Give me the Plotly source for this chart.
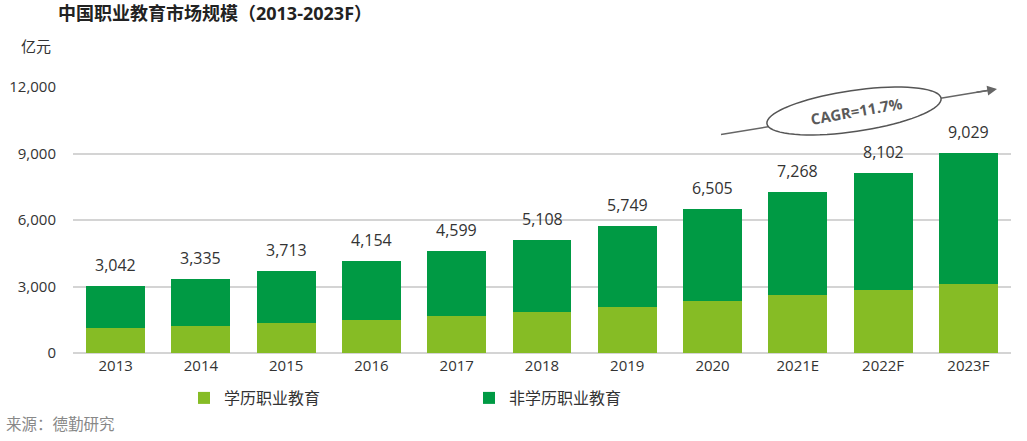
import math
import plotly.graph_objects as go

years = ["2013", "2014", "2015", "2016", "2017", "2018", "2019", "2020", "2021E", "2022F", "2023F"]
totals = [3042, 3335, 3713, 4154, 4599, 5108, 5749, 6505, 7268, 8102, 9029]
degree_voc = [1150, 1230, 1365, 1500, 1680, 1860, 2070, 2355, 2595, 2835, 3120]
non_degree_voc = [t - d for t, d in zip(totals, degree_voc)]
total_labels = [f"{v:,}" for v in totals]
y_ticks = [0, 3000, 6000, 9000, 12000]
y_tick_text = [f"{v:,}" for v in y_ticks]

LIGHT = "#86BC25"
DARK = "#009A44"
FONT = "Open Sans, Noto Sans CJK SC, sans-serif"

W, H = 1027, 441
L, R, T, B = 73, 16, 87, 88
PW, PH = W - L - R, H - T - B


def px(x):
    return (x - L) / PW


def py(y):
    return (H - B - y) / PH


fig = go.Figure()
fig.add_trace(go.Bar(x=years, y=degree_voc, name="学历职业教育", marker_color=LIGHT,
                     marker_line_width=0))
fig.add_trace(go.Bar(x=years, y=non_degree_voc, name="非学历职业教育", marker_color=DARK,
                     marker_line_width=0))

# CAGR arrow line (drawn first so the ellipse can cover it)
tail = (721, 134.5)
head = (997, 89)
shapes = [dict(type="line", xref="paper", yref="paper",
               x0=px(tail[0]), y0=py(tail[1]), x1=px(head[0] - 8), y1=py(head[1] + 1.3),
               line=dict(color="#666666", width=1.5), layer="above")]

# rotated ellipse
cx, cy, a, b, ang = 854, 111, 88, 20.5, math.radians(8.3)
pts = []
for i in range(73):
    t = 2 * math.pi * i / 72
    ex = a * math.cos(t)
    ey = b * math.sin(t)
    X = cx + ex * math.cos(ang) + ey * math.sin(ang)
    Y = cy - ex * math.sin(ang) + ey * math.cos(ang)
    pts.append((px(X), py(Y)))
path = "M " + " L ".join(f"{x:.5f},{y:.5f}" for x, y in pts) + " Z"
shapes.append(dict(type="path", xref="paper", yref="paper", path=path,
                   fillcolor="white", line=dict(color="#555555", width=1.5), layer="above"))

annotations = [
    dict(xref="paper", yref="paper", x=px(head[0]), y=py(head[1]), ax=-22, ay=3.6,
         text="", showarrow=True, arrowhead=2, arrowsize=1.3, arrowwidth=1.5,
         arrowcolor="#666666"),
    dict(xref="paper", yref="paper", x=px(856), y=py(111), xanchor="center", yanchor="middle",
         text="<b>CAGR=11.7%</b>", showarrow=False, textangle=-10,
         font=dict(size=15, color="#5a5a5a", family=FONT)),
    dict(xref="paper", yref="paper", x=px(53), y=py(46), xanchor="right", yanchor="middle",
         text="亿元", showarrow=False, font=dict(size=15, color="#333333", family=FONT)),
    dict(xref="paper", yref="paper", x=px(4), y=py(424), xanchor="left", yanchor="middle",
         text="来源：德勤研究", showarrow=False, font=dict(size=15.5, color="#888888", family=FONT)),
]

# total labels above each stacked bar (category index positions)
for i, (tot, lab) in enumerate(zip(totals, total_labels)):
    annotations.append(dict(x=i, y=tot, xref="x", yref="y", text=lab, showarrow=False,
                            xanchor="center", yanchor="bottom", yshift=8,
                            font=dict(size=16, color="#333333", family=FONT)))

fig.update_layout(
    width=W, height=H,
    margin=dict(l=L, r=R, t=T, b=B, autoexpand=False),
    paper_bgcolor="white", plot_bgcolor="white",
    barmode="stack", bargap=0.31,
    font=dict(family=FONT, size=14, color="#333333"),
    title=dict(text="<b>中国职业教育市场规模（2013-2023F）</b>", xref="container", yref="container",
               x=58 / W, xanchor="left", y=1 - 14 / H, yanchor="middle",
               font=dict(size=18, color="#222222", family=FONT)),
    xaxis=dict(type="category", categoryorder="array", categoryarray=years,
               range=[-0.5, len(years) - 0.5],
               showgrid=False, showline=False, ticks="", tickfont=dict(size=15, color="#333333"),
               ticklabelstandoff=2),
    yaxis=dict(range=[0, 12000], tickvals=y_ticks, ticktext=y_tick_text,
               showgrid=True, gridcolor="#d4d4d4", gridwidth=2,
               zeroline=True, zerolinecolor="#d4d4d4", zerolinewidth=2,
               showline=False, ticks="", tickfont=dict(size=15, color="#333333"),
               ticklabelstandoff=16),
    legend=dict(orientation="h", x=px(184), xanchor="left", y=py(398), yanchor="middle",
                font=dict(size=16, color="#333333"), entrywidth=240, traceorder="normal",
                itemsizing="constant"),
    shapes=shapes, annotations=annotations,
)

fig.write_html("out.html")
